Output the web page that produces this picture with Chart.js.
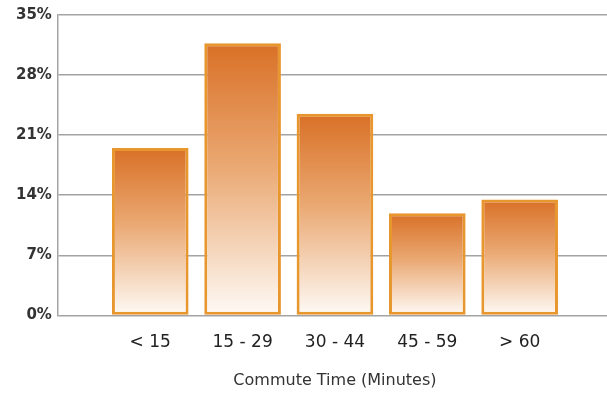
<!DOCTYPE html>
<html>
<head>
<meta charset="utf-8">
<script src="https://cdn.jsdelivr.net/npm/chart.js@4"></script>
<style>
  html, body { margin: 0; padding: 0; background: #ffffff; overflow: hidden; }
  #wrap { width: 607px; height: 394px; position: relative; overflow: hidden; }
  #chart { display: block; }
</style>
</head>
<body>
<div id="wrap"><canvas id="chart" width="621" height="394"></canvas></div>
<script>
// Share of commuters by one-way commute time
const categories = ['< 15', '15 - 29', '30 - 44', '45 - 59', '> 60'];
const shares = [19.5, 31.7, 23.5, 11.9, 13.5];
const yTicks = [0, 7, 14, 21, 28, 35];

// bars sit at x = 1..5 on a linear axis so the first bar leaves a full slot before it;
// the plot runs a little past the right edge of the frame, so the grid lines bleed off
const points = categories.map((c, i) => ({ x: i + 1, y: shares[i] }));

function barGradient(context) {
  const chart = context.chart;
  const yScale = chart.scales.y;
  if (!chart.chartArea || !yScale) return '#e3894a';
  const v = context.raw ? context.raw.y : 0;
  const top = yScale.getPixelForValue(v);
  const base = yScale.getPixelForValue(0);
  const g = chart.ctx.createLinearGradient(0, top, 0, base);
  g.addColorStop(0, '#d97026');
  g.addColorStop(0.45, '#eaa872');
  g.addColorStop(1, '#fefaf6');
  return g;
}

new Chart(document.getElementById('chart'), {
  type: 'bar',
  data: {
    datasets: [{
      data: points,
      backgroundColor: barGradient,
      borderColor: '#e8972f',
      borderWidth: 3,
      borderSkipped: false,
      barPercentage: 0.83,
      categoryPercentage: 1
    }]
  },
  options: {
    responsive: false,
    animation: false,
    layout: { padding: { top: 8, right: 0, bottom: 4, left: 10 } },
    plugins: { legend: { display: false }, tooltip: { enabled: false } },
    scales: {
      x: {
        type: 'linear',
        offset: false,
        min: 0,
        max: 6,
        grid: { display: false },
        border: { display: false },
        ticks: {
          stepSize: 1,
          autoSkip: false,
          maxRotation: 0,
          padding: 9,
          color: '#222222',
          font: { family: 'DejaVu Sans', size: 17 },
          callback: (v) => (Number.isInteger(v) && v >= 1 && v <= categories.length) ? categories[v - 1] : ''
        },
        title: {
          display: true,
          text: 'Commute Time (Minutes)',
          color: '#333333',
          font: { family: 'DejaVu Sans', size: 16 },
          padding: { top: 9, bottom: 0 }
        }
      },
      y: {
        min: 0,
        max: 35,
        afterBuildTicks: (scale) => { scale.ticks = yTicks.map(v => ({ value: v })); },
        grid: { color: '#a3a3a3', lineWidth: 1.5, drawTicks: false },
        border: { display: true, color: '#a3a3a3', width: 1.5 },
        ticks: {
          padding: 6,
          color: '#333333',
          font: { family: 'DejaVu Sans', size: 15, weight: 'bold' },
          callback: (v) => v + '%'
        }
      }
    }
  }
});
</script>
</body>
</html>
